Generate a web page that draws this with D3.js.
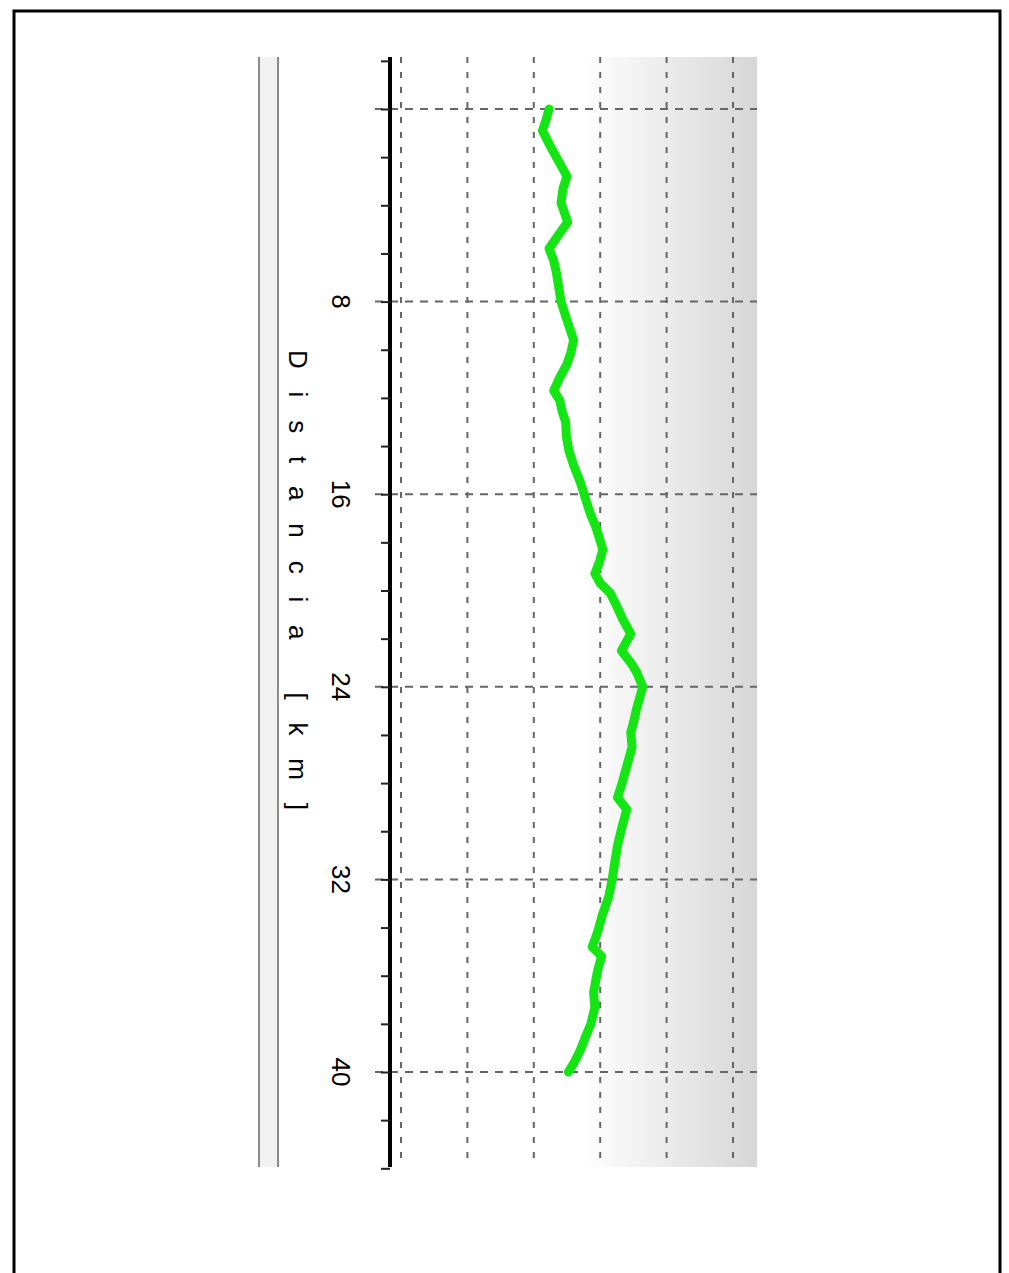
<!DOCTYPE html>
<html>
<head>
<meta charset="utf-8">
<script src="https://cdn.jsdelivr.net/npm/d3@7"></script>
<style>
  body { margin: 0; background: #fff; }
  svg { display: block; }
</style>
</head>
<body>
<div id="chart"></div>
<script>
// distance along the profile [km]
var distancia = [0, 0.4, 0.9, 1.5, 2.1, 2.8, 3.3, 3.9, 4.3, 4.7, 5.2, 5.8, 6.3, 6.8, 7.3, 8.0,
  8.6, 9.1, 9.6, 10.1, 10.6, 11.1, 11.7, 12.1, 12.6, 13.0, 13.6, 14.2, 14.8, 15.5, 16.2,
  16.8, 17.4, 18.3, 18.8, 19.3, 19.7, 20.1, 20.6, 21.2, 21.8, 22.2, 22.5, 23.0, 23.4, 24.0,
  24.5, 25.0, 25.5, 25.9, 26.5, 27.3, 28.0, 28.6, 29.1, 29.8, 30.6, 31.3, 32.0, 32.7, 33.5,
  34.2, 34.8, 35.2, 35.8, 36.7, 37.3, 38.0, 38.6, 39.1, 39.6, 40.0];
// measured value (unlabelled axis, read against the grid)
var valor = [22.3, 21.9, 21.3, 22.4, 23.6, 25.0, 24.4, 24.1, 24.6, 25.1, 23.8, 22.3, 23.0, 23.4, 23.7, 24.1,
  24.8, 25.4, 26.0, 25.6, 25.0, 24.0, 23.0, 23.9, 24.3, 24.8, 24.9, 25.3, 26.0, 27.0, 27.8,
  28.5, 29.4, 30.4, 29.9, 29.2, 30.0, 31.5, 32.4, 33.4, 34.6, 33.8, 33.2, 34.6, 35.5, 36.4,
  35.9, 35.4, 35.0, 34.6, 34.8, 34.0, 33.3, 32.6, 34.0, 33.3, 32.6, 32.2, 31.8, 31.3, 30.3,
  29.6, 28.8, 30.2, 29.6, 29.0, 29.2, 28.6, 27.7, 27.0, 26.1, 25.2];

var gridDist = [0, 8, 16, 24, 32, 40];
var labelDist = [8, 16, 24, 32, 40];
var minorTicks = [-2, 0, 2, 4, 6, 8, 10, 12, 14, 16, 18, 20, 22, 24, 26, 28, 30, 32, 34, 36, 38, 40, 42, 44];
var valorTicks = [0, 10, 20, 30, 40, 50];

var width = 1009, height = 1273;
var plotLeft = 390, plotRight = 757, plotTop = 57, plotBottom = 1167;

var svg = d3.select("#chart").append("svg")
  .attr("width", width).attr("height", height);

// outer frame
svg.append("rect")
  .attr("x", 14).attr("y", 11).attr("width", 986).attr("height", 1300)
  .attr("fill", "none").attr("stroke", "#000").attr("stroke-width", 3);

var y = d3.scaleLinear().domain([0, 40]).range([109, 1072]);
var x = d3.scaleLinear().domain([0, 50]).range([401, 733]);

var defs = svg.append("defs");
var grad = defs.append("linearGradient").attr("id", "fondo")
  .attr("x1", "0%").attr("x2", "100%").attr("y1", "0%").attr("y2", "0%");
grad.append("stop").attr("offset", "0%").attr("stop-color", "#fff");
grad.append("stop").attr("offset", "52%").attr("stop-color", "#fff");
grad.append("stop").attr("offset", "100%").attr("stop-color", "#d6d6d6");

svg.append("rect")
  .attr("x", plotLeft).attr("y", plotTop)
  .attr("width", plotRight - plotLeft).attr("height", plotBottom - plotTop)
  .attr("fill", "url(#fondo)");

// left panel strip
svg.append("rect")
  .attr("x", 259).attr("y", plotTop).attr("width", 19).attr("height", plotBottom - plotTop)
  .attr("fill", "#f1f1f1");
svg.selectAll(".strip").data([259, 278]).enter().append("line")
  .attr("class", "strip")
  .attr("x1", function(d) { return d; }).attr("x2", function(d) { return d; })
  .attr("y1", plotTop).attr("y2", plotBottom)
  .attr("stroke", "#8a8a8a").attr("stroke-width", 2);

// grid
svg.append("g").selectAll("line").data(valorTicks).enter().append("line")
  .attr("x1", function(d) { return x(d); }).attr("x2", function(d) { return x(d); })
  .attr("y1", plotTop).attr("y2", plotBottom)
  .attr("stroke", "#666").attr("stroke-width", 2)
  .attr("stroke-dasharray", "6,9");

svg.append("g").selectAll("line").data(gridDist).enter().append("line")
  .attr("x1", 375).attr("x2", plotRight)
  .attr("y1", function(d) { return y(d); }).attr("y2", function(d) { return y(d); })
  .attr("stroke", "#666").attr("stroke-width", 2)
  .attr("stroke-dasharray", "8,7");

// distance axis
var yClip = y.copy().domain([y.invert(plotTop), y.invert(plotBottom)]).range([plotTop, plotBottom]);
var axis = svg.append("g")
  .attr("transform", "translate(" + plotLeft + ",0)")
  .call(d3.axisLeft(yClip).tickValues(minorTicks).tickSize(9).tickFormat(""));
axis.select(".domain").attr("stroke-width", 4).attr("d", "M0," + plotTop + "V" + plotBottom);
axis.selectAll(".tick line").attr("stroke", "#222").attr("stroke-width", 2);

svg.append("g").selectAll("text").data(labelDist).enter().append("text")
  .attr("transform", function(d) { return "translate(341," + y(d) + ") rotate(90)"; })
  .attr("text-anchor", "middle")
  .attr("dy", "0.35em")
  .style("font-family", "'Liberation Sans', Arial, sans-serif")
  .style("font-size", "26px")
  .text(function(d) { return d; });

svg.append("text")
  .attr("transform", "translate(298,580) rotate(90)")
  .attr("text-anchor", "middle")
  .attr("dy", "0.35em")
  .attr("textLength", 460).attr("lengthAdjust", "spacing")
  .style("font-family", "'Liberation Sans', Arial, sans-serif")
  .style("font-size", "26px")
  .text("Distancia [km]");

// profile line
var puntos = distancia.map(function(d, i) { return [d, valor[i]]; });
var line = d3.line()
  .x(function(d) { return x(d[1]); })
  .y(function(d) { return y(d[0]); });

svg.append("path")
  .datum(puntos)
  .attr("d", line)
  .attr("fill", "none")
  .attr("stroke", "#14e614")
  .attr("stroke-width", 9)
  .attr("stroke-linejoin", "round")
  .attr("stroke-linecap", "round");
</script>
</body>
</html>
